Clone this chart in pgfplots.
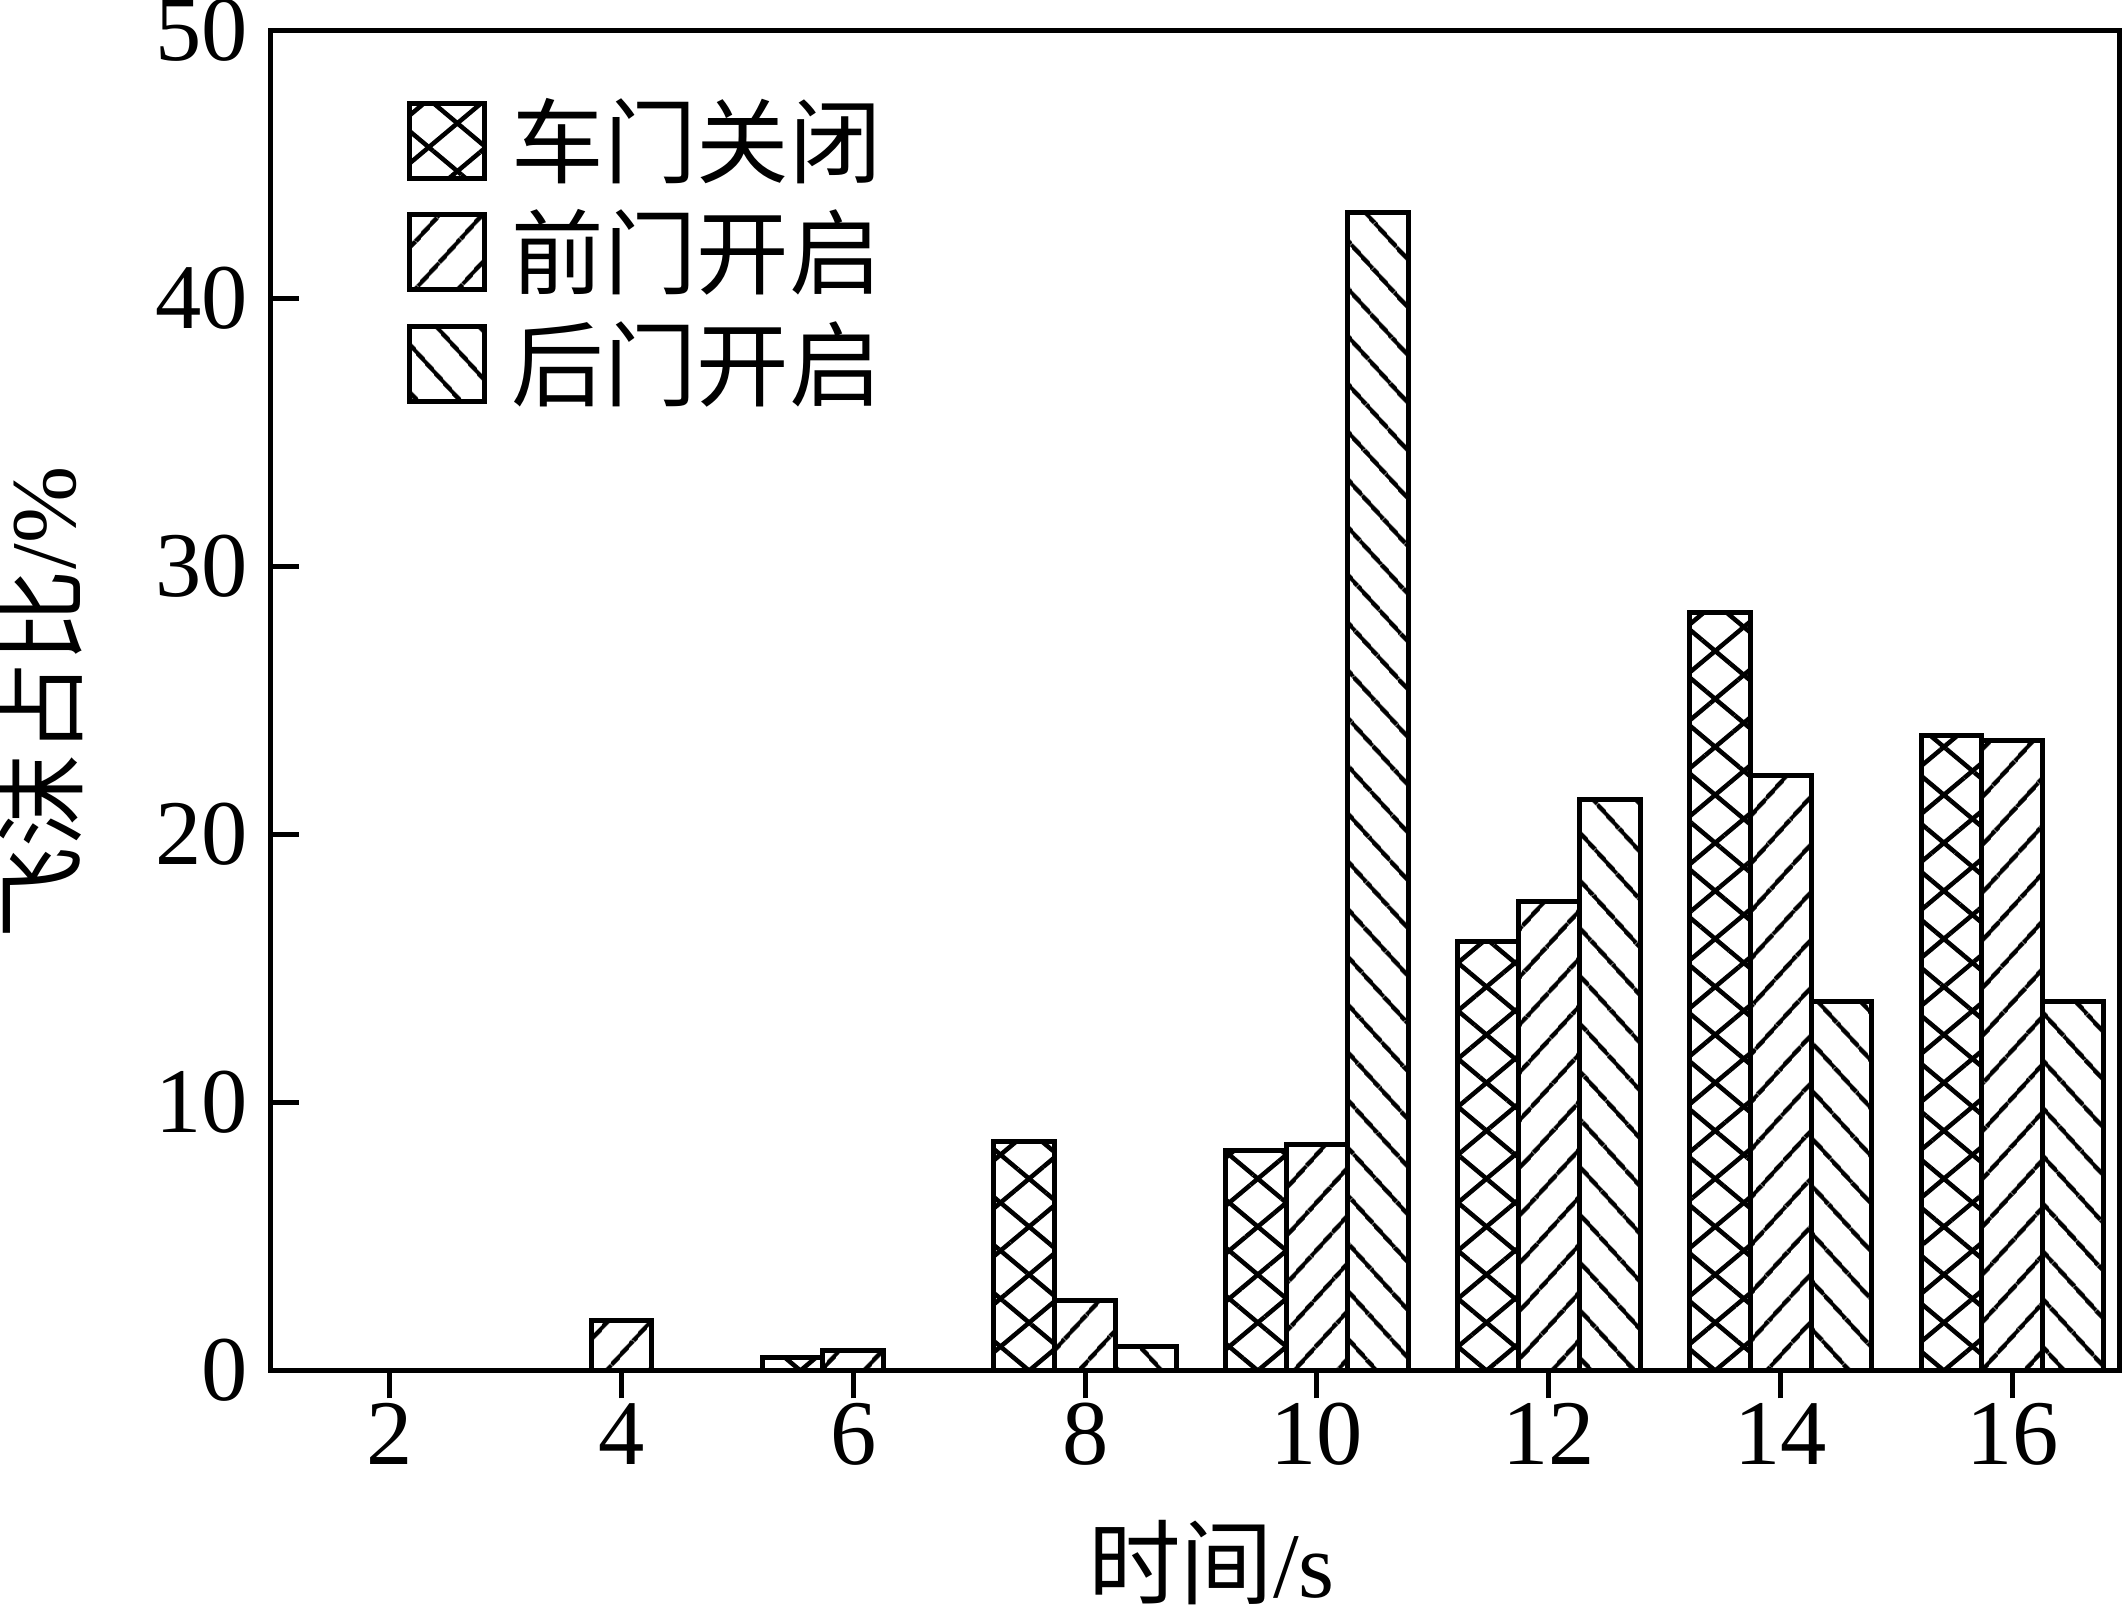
\documentclass[border=0pt]{standalone}
\usepackage{fontspec}
\setmainfont{Liberation Serif}
\newfontfamily\cjk{Noto Sans CJK SC}
\usepackage{pgfplots}
\pgfplotsset{compat=1.18}
\usetikzlibrary{patterns.meta}

\tikzset{
  crossbar/.style={draw=black, line width=1pt,
    pattern={Lines[angle=40,distance=7.35pt,line width=0.9pt]}, pattern color=black,
    postaction={pattern={Lines[angle=-40,distance=7.35pt,line width=0.9pt]}, pattern color=black}},
  nebar/.style={draw=black, line width=1pt,
    pattern={Lines[angle=48,distance=6.4pt,line width=0.9pt]}, pattern color=black},
  nwbar/.style={draw=black, line width=1pt,
    pattern={Lines[angle=-48,distance=6.4pt,line width=0.9pt]}, pattern color=black},
}

\begin{document}
\begin{tikzpicture}
\begin{axis}[
  name=ax,
  scale only axis,
  width=369.7pt, height=268pt,
  xmin=0.971, xmax=16.92,
  ymin=0, ymax=50,
  xtick={2,4,...,16},
  ytick={0,10,...,50},
  tick align=inside,
  xtick pos=bottom, ytick pos=left,
  major tick length=5.6pt,
  every tick/.style={line width=1pt, black},
  axis line style={line width=1pt},
  /pgf/number format/assume math mode=true,
  tick label style={font=\fontsize{18.5}{20}\selectfont},
  yticklabel style={xshift=-1pt},
  xticklabel style={yshift=2.6pt},
  label style={font=\fontsize{18.5}{20}\selectfont},
  xlabel={{\cjk 时间}/s},
  ylabel={{\cjk 飞沫占比}/\%},
  xlabel style={at={(axis description cs:0.509,-0.1437)}, anchor=center},
  ylabel style={at={(axis description cs:-0.1244,0.498)}, anchor=center},
  ybar,
  bar width=0.525,
  legend style={at={(0,1)}, anchor=north west, xshift=27pt, yshift=-13.3pt,
    draw=none, fill=none, inner sep=0pt, row sep=5.2pt,
    font=\fontsize{18.5}{20}\selectfont\cjk,
    nodes={inner sep=0pt},
    /tikz/every odd column/.append style={column sep=5pt}},
  legend cell align=left,
  legend image code/.code={\draw[#1] (0pt,-7.5pt) rectangle (15pt,7.5pt);},
]
\addplot[crossbar, bar shift=-0.525] coordinates {
  (6,0.5) (8,8.55) (10,8.2) (12,16.0) (14,28.3) (16,23.7)
};
\addplot[nebar, bar shift=0] coordinates {
  (4,1.87) (6,0.75) (8,2.6) (10,8.45) (12,17.5) (14,22.2) (16,23.5)
};
\addplot[nwbar, bar shift=0.525] coordinates {
  (8,0.9) (10,43.2) (12,21.3) (14,13.75) (16,13.75)
};
\legend{车门关闭,前门开启,后门开启}
\end{axis}
\pgfresetboundingbox
\path ([shift={(-54.1pt,-48pt)}]ax.south west) rectangle ([shift={(0.6pt,6.1pt)}]ax.north east);
\end{tikzpicture}
\end{document}
